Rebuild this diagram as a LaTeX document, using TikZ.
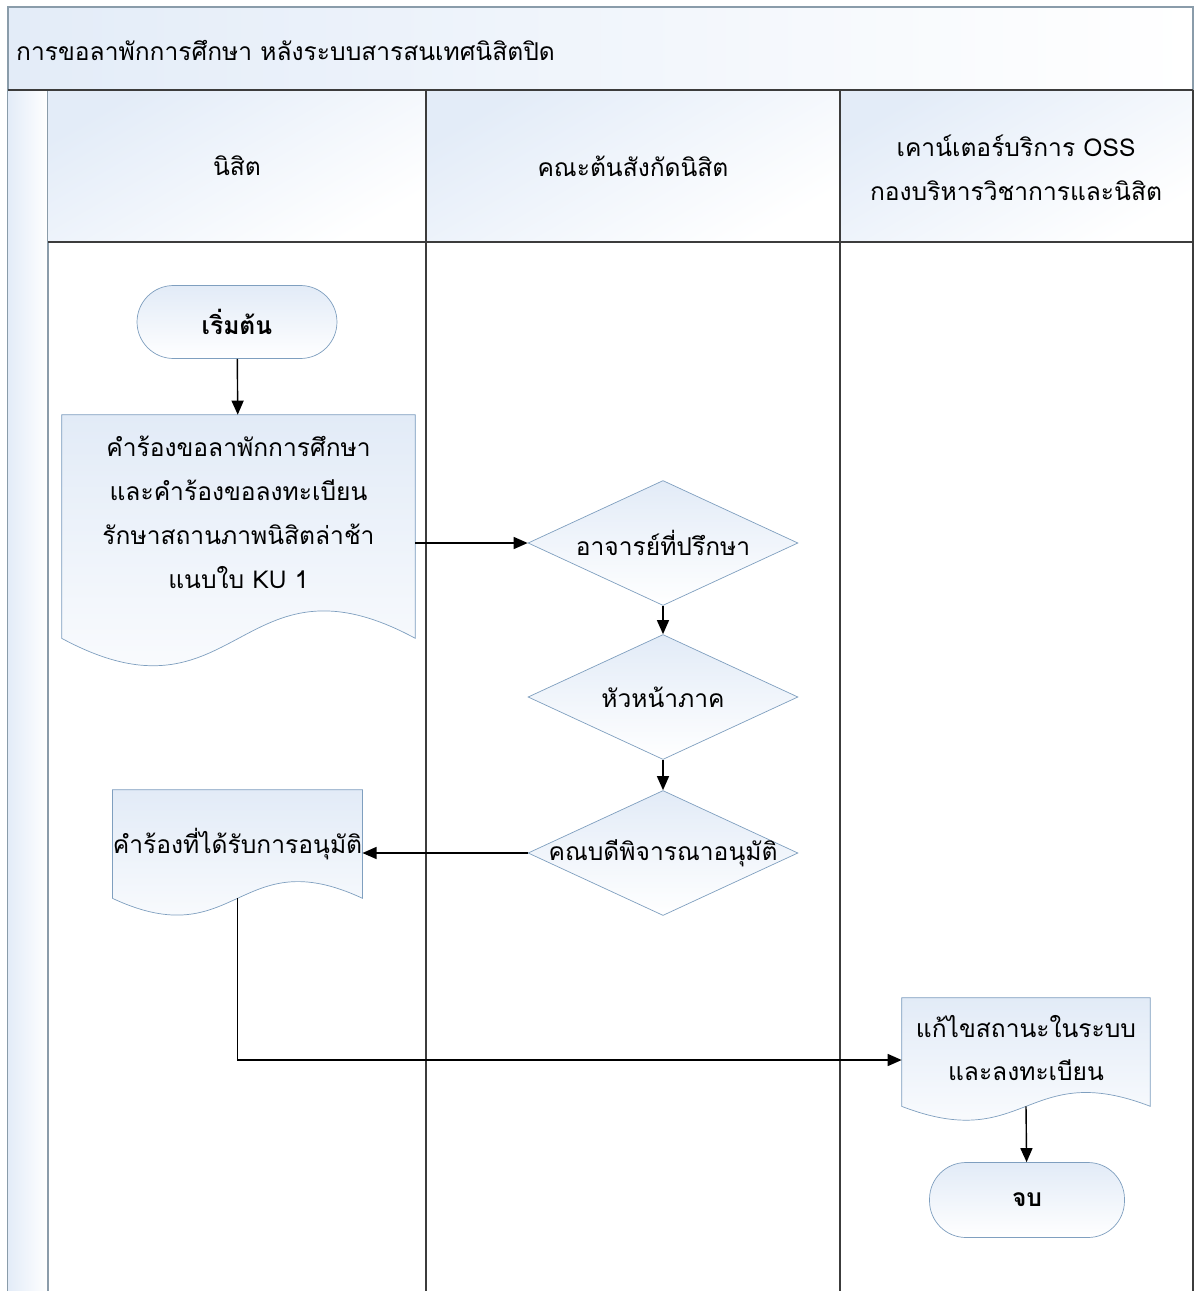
\documentclass[tikz,border=0pt]{standalone}
\usepackage{fontspec}
\setmainfont{Loma}[Script=Thai]
\usetikzlibrary{shapes.geometric,arrows.meta,positioning}
\definecolor{shapeblue}{HTML}{E2EBF7}
\definecolor{shapeline}{HTML}{7F9FBF}
\definecolor{headblue}{HTML}{E3ECF8}
\definecolor{framegray}{HTML}{8A9CAA}
\definecolor{lanegray}{HTML}{3C3C3C}
\pgfdeclarelayer{back}
\pgfdeclarelayer{docs}
\pgfsetlayers{back,docs,main}
\tikzset{
 terminal/.style={rectangle, rounded corners=0.73cm, draw=shapeline, top color=shapeblue, bottom color=white, minimum width=4cm, minimum height=1.46cm, font=\fontsize{14}{25}\selectfont\bfseries},
 decision/.style={diamond, draw=shapeline, top color=shapeblue, bottom color=white, minimum width=5.4cm, minimum height=2.5cm, inner sep=0pt},
 docbox/.style={rectangle, align=center, inner sep=0pt},
 docfill/.style={draw=shapeline, top color=shapeblue, bottom color=white},
 flow/.style={draw=black, line width=0.8pt, -{Triangle[length=2.8mm,width=2.4mm]}},
 lane/.style={draw=lanegray, line width=1.1pt},
}
% document symbol: node, half width, wave amplitude, extra tail
\newcommand{\docshape}[4]{%
 \begin{pgfonlayer}{docs}
 \path[docfill] (#1.south west) ++(0,#4) -- (#1.north west) -- (#1.north east) -- ([yshift=-#4*0.02cm]#1.south east)
   .. controls +(-#2,-#3) and +(#2,#3) .. ([yshift=-#4*0.02cm]#1.south west) -- cycle;
 \end{pgfonlayer}}
\begin{document}
\begin{tikzpicture}[x=0.02cm, y=-0.02cm, font=\fontsize{14}{25}\selectfont]
\useasboundingbox (0,0) rectangle (1200,1291);
% pool and lanes
\begin{pgfonlayer}{back}
\shade[left color=headblue, right color=white] (8,7) rectangle (1193,90);
\draw[framegray, line width=0.8pt] (8,1291) -- (8,7) -- (1193,7) -- (1193,90);
\shade[left color=headblue, right color=white] (8,90) rectangle (48,1291);
\draw[framegray, line width=0.8pt] (48,90) -- (48,1291);
\foreach \xa/\xb in {48/426, 426/840, 840/1193}
  \shade[top color=headblue, bottom color=white, shading angle=30] (\xa,90) rectangle (\xb,242);
\draw[lane] (8,90) -- (1193,90);
\draw[lane] (48,242) -- (1193,242);
\draw[lane] (426,90) -- (426,1291);
\draw[lane] (840,90) -- (840,1291);
\draw[lane] (1193,90) -- (1193,1291);
\end{pgfonlayer}
\node[anchor=west] (title) at (10,50) {การขอลาพักการศึกษา หลังระบบสารสนเทศนิสิตปิด};
\node (student) at (237,166) {นิสิต};
\node (faculty) at (633,166) {คณะต้นสังกัดนิสิต};
\node[align=center] (oss) at (1016,168) {เคาน์เตอร์บริการ OSS\\กองบริหารวิชาการและนิสิต};
% flow
\node[terminal] (start) at (237,322) {เริ่มต้น};
\node[docbox, minimum width=7.06cm, minimum height=3.9cm] (req) at (238.5,512.5)
  {คำร้องขอลาพักการศึกษา\\และคำร้องขอลงทะเบียน\\รักษาสถานภาพนิสิตล่าช้า\\แนบใบ KU 1};
\docshape{req}{176}{95}{28}
\node[decision] (adv) at (663,543) {\makebox[0pt]{อาจารย์ที่ปรึกษา}};
\node[decision] (head) at (663,697) {\makebox[0pt]{หัวหน้าภาค}};
\node[decision] (dean) at (663,853) {\makebox[0pt]{คณบดีพิจารณาอนุมัติ}};
\node[docbox, minimum width=4.98cm, minimum height=2.16cm] (ok) at (237.5,844) {คำร้องที่ได้รับการอนุมัติ};
\docshape{ok}{124}{58}{0}
\node[docbox, minimum width=4.96cm, minimum height=2.0cm] (fix) at (1026,1048) {แก้ไขสถานะในระบบ\\และลงทะเบียน};
\docshape{fix}{124}{48}{8}
\node[terminal, minimum width=3.9cm, minimum height=1.5cm] (stop) at (1027,1200) {จบ};
\draw[flow] (start) -- (req);
\draw[flow] (req.east |- adv.west) -- (adv);
\draw[flow] (adv) -- (head);
\draw[flow] (head) -- (dean);
\draw[flow] (dean) -- (dean.west -| ok.east);
\draw[flow] (ok.south) |- ([yshift=-0.24cm]fix.west);
\draw[flow] ([yshift=-0.16cm]fix.south) -- (stop);
\end{tikzpicture}
\end{document}
